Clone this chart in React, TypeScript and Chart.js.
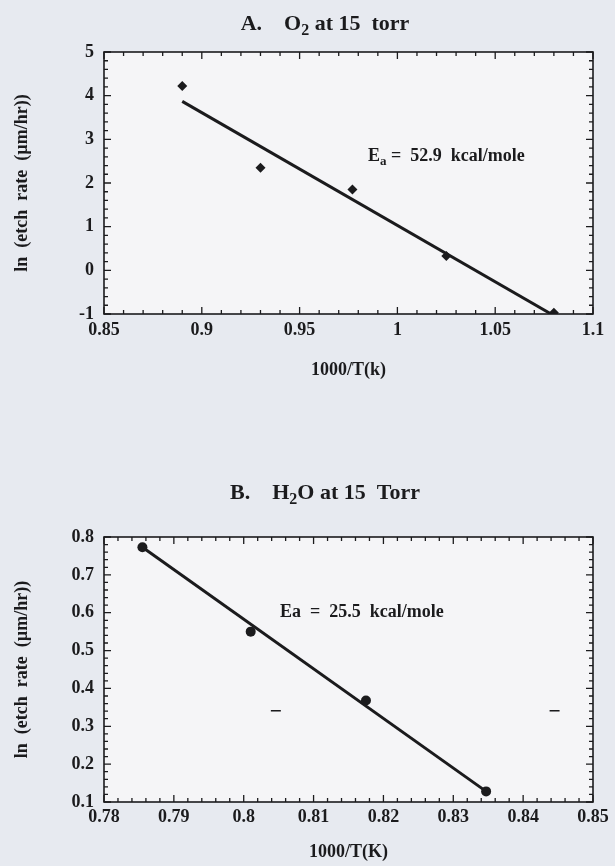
import React, { useEffect, useRef } from "react";
import { Chart, registerables } from "chart.js";
Chart.register(...registerables);

// ---------- Panel A: O2 at 15 torr ----------
const xA = [0.89, 0.93, 0.977, 1.025, 1.08];
const yA = [4.22, 2.35, 1.85, 0.33, -0.97];
const fitXA = [0.89, 1.0786];
const fitYA = [3.87, -1.0];
const xTicksA = [0.85, 0.9, 0.95, 1, 1.05, 1.1];
const yTicksA = [-1, 0, 1, 2, 3, 4, 5];

// ---------- Panel B: H2O at 15 Torr ----------
const xB = [0.7855, 0.801, 0.8175, 0.8347];
const yB = [0.773, 0.55, 0.368, 0.128];
const fitXB = [0.7855, 0.8347];
const fitYB = [0.773, 0.128];
const dashXB = [0.8046, 0.8445];
const dashYB = [0.341, 0.341];
const xTicksB = [0.78, 0.79, 0.8, 0.81, 0.82, 0.83, 0.84, 0.85];
const yTicksB = [0.1, 0.2, 0.3, 0.4, 0.5, 0.6, 0.7, 0.8];

const FONT = "'Liberation Serif', 'Times New Roman', serif";
const INK = "#1b1b1d";
const PAGE_BG = "#e7eaf0";
const PLOT_BG = "#f5f5f7";

type Run = { t: string; sub?: boolean };

function drawRuns(ctx: CanvasRenderingContext2D, runs: Run[], x: number, y: number, size: number, align: "center" | "left") {
  const subSize = Math.round(size * 0.72);
  const f = (s: number) => `bold ${s}px ${FONT}`;
  let total = 0;
  const widths = runs.map((r) => {
    ctx.font = f(r.sub ? subSize : size);
    const w = ctx.measureText(r.t).width;
    total += w;
    return w;
  });
  let cx = align === "center" ? x - total / 2 : x;
  ctx.save();
  ctx.textBaseline = "middle";
  ctx.textAlign = "left";
  ctx.fillStyle = INK;
  runs.forEach((r, i) => {
    ctx.font = f(r.sub ? subSize : size);
    ctx.fillText(r.t, cx, y + (r.sub ? size * 0.32 : 0));
    cx += widths[i];
  });
  ctx.restore();
}

const zip = (xs: number[], ys: number[]) => xs.map((x, i) => ({ x, y: ys[i] }));

function makeFramePlugin(spec: any) {
  return {
    id: "frameTicks",
    beforeDatasetsDraw(chart: any) {
      const { ctx, chartArea: a } = chart;
      ctx.save();
      ctx.fillStyle = PLOT_BG;
      ctx.fillRect(a.left, a.top, a.right - a.left, a.bottom - a.top);
      ctx.restore();
    },
    afterDatasetsDraw(chart: any) {
      const { ctx, chartArea: a, scales } = chart;
      const xs = scales.x, ys = scales.y;
      ctx.save();
      ctx.strokeStyle = INK;
      ctx.lineWidth = 1.6;
      ctx.strokeRect(a.left, a.top, a.right - a.left, a.bottom - a.top);
      ctx.lineWidth = 1.3;
      const major = 7, minor = 4;
      const nx = Math.round((spec.xMax - spec.xMin) / spec.xMinor);
      for (let i = 0; i <= nx; i++) {
        const v = spec.xMin + i * spec.xMinor;
        const isMajor = spec.xTicks.some((t: number) => Math.abs(t - v) < spec.xMinor / 10);
        const L = isMajor ? major : minor;
        const px = xs.getPixelForValue(v);
        ctx.beginPath();
        ctx.moveTo(px, a.bottom); ctx.lineTo(px, a.bottom - L);
        ctx.moveTo(px, a.top); ctx.lineTo(px, a.top + L);
        ctx.stroke();
      }
      const ny = Math.round((spec.yMax - spec.yMin) / spec.yMinor);
      for (let i = 0; i <= ny; i++) {
        const v = spec.yMin + i * spec.yMinor;
        const isMajor = spec.yTicks.some((t: number) => Math.abs(t - v) < spec.yMinor / 10);
        const L = isMajor ? major : minor;
        const py = ys.getPixelForValue(v);
        ctx.beginPath();
        ctx.moveTo(a.left, py); ctx.lineTo(a.left + L, py);
        ctx.moveTo(a.right, py); ctx.lineTo(a.right - L, py);
        ctx.stroke();
      }
      ctx.restore();
    },
    afterDraw(chart: any) {
      const { ctx, scales } = chart;
      drawRuns(ctx, spec.title, 325, spec.titleY, 22, "center");
      drawRuns(ctx, spec.note, scales.x.getPixelForValue(spec.noteX), scales.y.getPixelForValue(spec.noteY), 18, "left");
    },
  };
}

function Panel({ spec }: { spec: any }) {
  const ref = useRef<HTMLCanvasElement | null>(null);
  useEffect(() => {
    if (!ref.current) return;
    const tickFont = { family: FONT, size: 18, weight: "bold" as const };
    const chart = new Chart(ref.current, {
      type: "scatter",
      data: { datasets: spec.datasets },
      options: {
        animation: false,
        responsive: false,
        maintainAspectRatio: false,
        layout: { padding: { left: 0, right: 22, top: spec.padTop, bottom: 0 } },
        plugins: { legend: { display: false }, tooltip: { enabled: false }, title: { display: false } },
        scales: {
          x: {
            type: "linear",
            min: spec.xMin,
            max: spec.xMax,
            afterBuildTicks: (s: any) => { s.ticks = spec.xTicks.map((v: number) => ({ value: v })); },
            afterFit: (s: any) => { s.height = spec.xHeight; s.paddingLeft = 0; s.paddingRight = 0; },
            ticks: { font: tickFont, color: INK, padding: spec.xTickPad, maxRotation: 0, autoSkip: false, callback: (v: any) => String(v) },
            grid: { display: false, drawTicks: false },
            border: { display: false },
            title: { display: true, text: spec.xTitle, font: tickFont, color: INK, padding: { top: 0, bottom: spec.xTitlePadBottom } },
          },
          y: {
            type: "linear",
            min: spec.yMin,
            max: spec.yMax,
            afterBuildTicks: (s: any) => { s.ticks = spec.yTicks.map((v: number) => ({ value: v })); },
            afterFit: (s: any) => { s.width = 104; s.paddingTop = 0; s.paddingBottom = 0; },
            ticks: { font: tickFont, color: INK, padding: 10, autoSkip: false, callback: (v: any) => String(v) },
            grid: { display: false, drawTicks: false },
            border: { display: false },
            title: { display: true, text: "ln  (etch  rate  (µm/hr))", font: tickFont, color: INK, padding: { top: 12, bottom: 0 } },
          },
        },
      },
      plugins: [makeFramePlugin(spec)],
    });
    return () => chart.destroy();
  }, [spec]);
  return (
    <canvas
      ref={ref}
      width={615}
      height={spec.height}
      style={{ position: "absolute", left: 0, top: spec.top, width: 615, height: spec.height }}
    />
  );
}

const specA: any = {
  top: 0,
  height: 400,
  padTop: 52,
  xHeight: 400 - 314,
  xMin: 0.85, xMax: 1.1, xTicks: xTicksA, xMinor: 0.01,
  yMin: -1, yMax: 5, yTicks: yTicksA, yMinor: 0.2,
  xTitle: "1000/T(k)",
  xTickPad: 6,
  xTitlePadBottom: 19,
  datasets: [
    { data: zip(xA, yA), pointStyle: "rectRot", pointRadius: 5, backgroundColor: INK, borderColor: INK, borderWidth: 0, showLine: false },
    { data: zip(fitXA, fitYA), showLine: true, borderColor: INK, borderWidth: 3, pointRadius: 0 },
  ],
  title: [{ t: "A.    O" }, { t: "2", sub: true }, { t: " at 15  torr" }],
  titleY: 24,
  note: [{ t: "E" }, { t: "a", sub: true }, { t: " =  52.9  kcal/mole" }],
  noteX: 0.985,
  noteY: 2.62,
};

const specB: any = {
  top: 430,
  height: 436,
  padTop: 107,
  xHeight: 436 - 372,
  xMin: 0.78, xMax: 0.85, xTicks: xTicksB, xMinor: 0.002,
  yMin: 0.1, yMax: 0.8, yTicks: yTicksB, yMinor: 0.02,
  xTitle: "1000/T(K)",
  xTickPad: 5,
  xTitlePadBottom: 3,
  datasets: [
    { data: zip(xB, yB), pointStyle: "circle", pointRadius: 5, backgroundColor: INK, borderColor: INK, borderWidth: 0, showLine: false },
    { data: zip(fitXB, fitYB), showLine: true, borderColor: INK, borderWidth: 3, pointRadius: 0 },
    { data: zip(dashXB, dashYB), pointStyle: "line", pointRadius: 5, borderColor: INK, borderWidth: 1.5, showLine: false },
  ],
  title: [{ t: "B.    H" }, { t: "2", sub: true }, { t: "O at 15  Torr" }],
  titleY: 63,
  note: [{ t: "Ea  =  25.5  kcal/mole" }],
  noteX: 0.8052,
  noteY: 0.6,
};

export default function App() {
  return (
    <div style={{ position: "absolute", left: 0, top: 0, width: 615, height: 866, background: PAGE_BG, overflow: "hidden" }}>
      <Panel spec={specA} />
      <Panel spec={specB} />
    </div>
  );
}
